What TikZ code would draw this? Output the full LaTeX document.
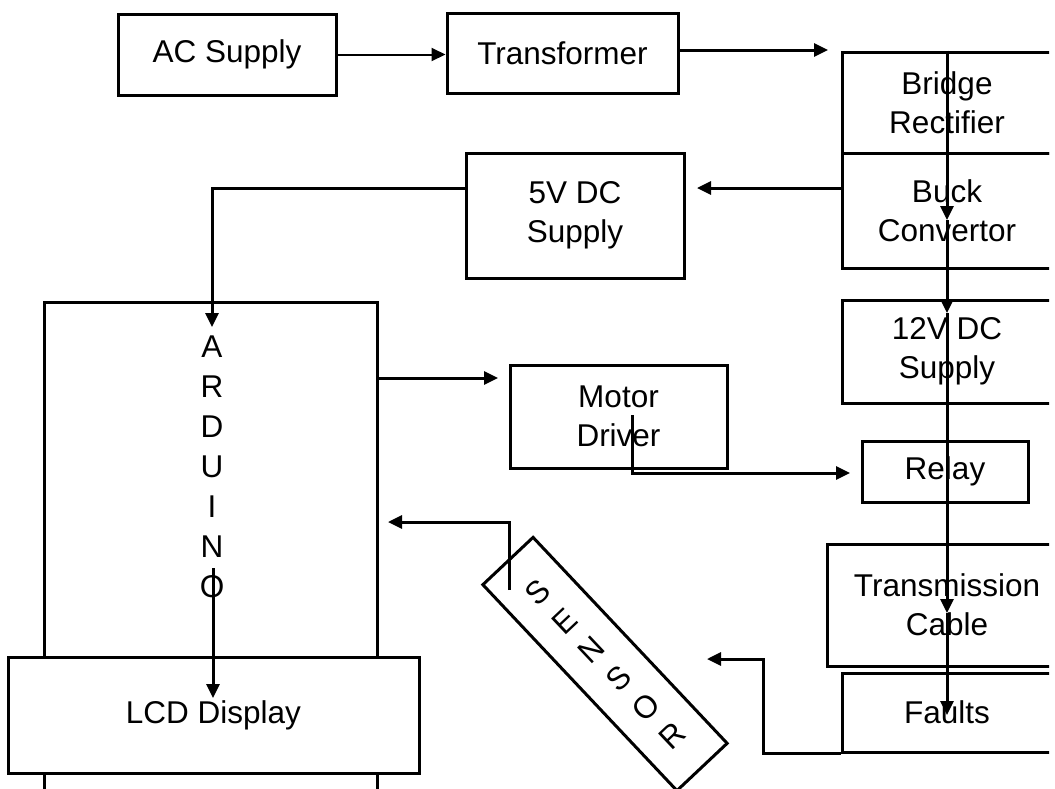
\documentclass[tikz,border=0pt]{standalone}
\usepackage{fontspec}
\setmainfont{Liberation Sans}
\usetikzlibrary{arrows.meta}

\newcommand{\blkfont}{\fontsize{15.75}{19.5}\selectfont}

\begin{document}
\begin{tikzpicture}[
    x=0.5pt, y=-0.5pt,
    blk/.style={draw, line width=1.5pt, inner sep=0pt, align=center, font=\blkfont},
    ardch/.style={inner sep=0pt, font=\blkfont},
    arr/.style={line width=1.5pt, -{Triangle[length=7pt,width=6.5pt]}},
    thinarr/.style={line width=1pt, -{Triangle[length=7pt,width=6.5pt]}},
  ]
    \useasboundingbox (0,0) rectangle (1055,788);
    \clip (0,0) rectangle (1049,788);

    % === power chain on top ===
    \node[blk, minimum width=109pt, minimum height=40.5pt] (ac) at (227,54.5) {AC Supply};
    \node[blk, minimum width=115.5pt, minimum height=40pt] (trans) at (562.5,53) {Transformer};

    % === right column ===
    \node[blk, minimum width=105pt, minimum height=50.5pt] (bridge) at (947,102.5) {Bridge\\Rectifier};
    \node[blk, minimum width=105pt, minimum height=57.5pt] (buck) at (947,210.5) {Buck\\Convertor};
    \node[blk, minimum width=105pt, minimum height=51.5pt] (dc12) at (947,351.5) {12V DC\\Supply};
    \node[blk, minimum width=83pt, minimum height=30.5pt] (relay) at (945,471.5) {Relay};
    \node[blk, minimum width=120pt, minimum height=61pt] (tcable) at (947,605) {Transmission\\Cable};
    \node[blk, minimum width=105pt, minimum height=39.5pt] (faults) at (947,712.5) {Faults};

    % === middle ===
    \node[blk, minimum width=109pt, minimum height=62.5pt] (dc5) at (575,215.5) {5V DC\\Supply};
    \node[blk, minimum width=108.5pt, minimum height=51.5pt] (motor) at (618.5,416.5) {Motor\\Driver};
    \node[blk, minimum width=34.5pt, minimum height=141.5pt, rotate=43.3,
          font=\fontsize{15.75}{19.65}\selectfont] (sensor) at (605,664) {S\\E\\N\\S\\O\\R};

    % === Arduino with LCD over it ===
    \node[blk, minimum width=166.5pt, minimum height=264pt] (ard) at (210.5,566) {};
    \foreach \ch [count=\i] in {A,R,D,U,I,N,O} {
      \node[ardch] (ard\i) at (212,307+40*\i) {\ch};
    }
    \node[blk, fill=white, minimum width=205.5pt, minimum height=58pt] (lcd) at (213.5,715) {LCD Display};

    % --- arrow end points ---
    \coordinate (brin) at (828,50);
    \coordinate (bkin) at (947,220);
    \coordinate (dc12in) at (947,313);
    \coordinate (tcin) at (947,613);
    \coordinate (ftin) at (947,715);
    \coordinate (dc5in) at (697,188);
    \coordinate (ardin) at (212,327);
    \coordinate (mdin) at (498,378);
    \coordinate (mdout) at (632,415);
    \coordinate (rlin) at (850,473);
    \coordinate (snout) at (509,590);
    \coordinate (ardsn) at (388,522);
    \coordinate (fbend) at (763,659);
    \coordinate (snin) at (707,659);
    \coordinate (ardout) at (213,568);
    \coordinate (lcdin) at (213,698);

    % --- connectors ---
    \draw[thinarr] (ac.east) -- (ac.east -| trans.west);
    \draw[arr] (trans.east |- brin) -- (brin);
    \draw[arr] (bridge.north) -- (bkin);
    \draw[arr] (bkin) -- (dc12in);
    \draw[arr] (dc12in) -- (tcin);
    \draw[arr] (tcin) -- (ftin);
    \draw[arr] (buck.west |- dc5in) -- (dc5in);
    \draw[arr] (dc5.west |- dc5in) -| (ardin);
    \draw[arr] (ard.east |- mdin) -- (mdin);
    \draw[arr] (mdout) |- (rlin);
    \draw[arr] (snout) |- (ardsn);
    \draw[arr] (faults.south west) -| (fbend) -- (snin);
    \draw[arr] (ardout) -- (lcdin);
\end{tikzpicture}
\end{document}
